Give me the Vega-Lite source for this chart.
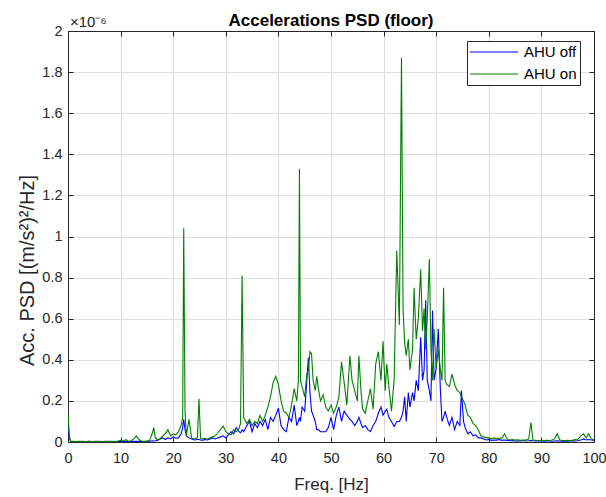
{
  "$schema": "https://vega.github.io/schema/vega-lite/v6.json",
  "autosize": "none",
  "width": 526,
  "height": 411,
  "padding": {"left": 68, "top": 31, "right": 12, "bottom": 55},
  "background": "white",
  "title": {"text": "Accelerations PSD (floor)", "fontSize": 17, "fontWeight": "bold", "anchor": "middle", "color": "#000000", "offset": -15, "font": "Liberation Sans"},
  "layer": [
    {
      "data": {"values": [
        {"f":0,"AHU off":0.09,"AHU on":0.14},
        {"f":0.25,"AHU off":0.02,"AHU on":0.03},
        {"f":0.5,"AHU off":0.003,"AHU on":0.004},
        {"f":1,"AHU off":0.002,"AHU on":0.003},
        {"f":1.5,"AHU off":0.002,"AHU on":0.002},
        {"f":2,"AHU off":0.002,"AHU on":0.003},
        {"f":2.5,"AHU off":0.003,"AHU on":0.002},
        {"f":3,"AHU off":0.002,"AHU on":0.003},
        {"f":3.5,"AHU off":0.002,"AHU on":0.002},
        {"f":4,"AHU off":0.003,"AHU on":0.003},
        {"f":4.5,"AHU off":0.002,"AHU on":0.002},
        {"f":5,"AHU off":0.002,"AHU on":0.003},
        {"f":5.5,"AHU off":0.003,"AHU on":0.002},
        {"f":6,"AHU off":0.002,"AHU on":0.003},
        {"f":6.5,"AHU off":0.002,"AHU on":0.002},
        {"f":7,"AHU off":0.002,"AHU on":0.003},
        {"f":7.5,"AHU off":0.003,"AHU on":0.002},
        {"f":8,"AHU off":0.002,"AHU on":0.003},
        {"f":8.5,"AHU off":0.002,"AHU on":0.003},
        {"f":9,"AHU off":0.002,"AHU on":0.002},
        {"f":9.5,"AHU off":0.003,"AHU on":0.004},
        {"f":10,"AHU off":0.003,"AHU on":0.008},
        {"f":10.5,"AHU off":0.002,"AHU on":0.005},
        {"f":11,"AHU off":0.003,"AHU on":0.012},
        {"f":11.5,"AHU off":0.002,"AHU on":0.004},
        {"f":12,"AHU off":0.002,"AHU on":0.006},
        {"f":12.5,"AHU off":0.003,"AHU on":0.015},
        {"f":13,"AHU off":0.004,"AHU on":0.03},
        {"f":13.5,"AHU off":0.003,"AHU on":0.012},
        {"f":14,"AHU off":0.002,"AHU on":0.004},
        {"f":14.5,"AHU off":0.002,"AHU on":0.003},
        {"f":15,"AHU off":0.003,"AHU on":0.004},
        {"f":15.5,"AHU off":0.004,"AHU on":0.008},
        {"f":16,"AHU off":0.006,"AHU on":0.04},
        {"f":16.3,"AHU off":0.005,"AHU on":0.07},
        {"f":16.6,"AHU off":0.006,"AHU on":0.02},
        {"f":17,"AHU off":0.008,"AHU on":0.012},
        {"f":17.5,"AHU off":0.015,"AHU on":0.015},
        {"f":18,"AHU off":0.02,"AHU on":0.03},
        {"f":18.5,"AHU off":0.012,"AHU on":0.04},
        {"f":19,"AHU off":0.02,"AHU on":0.06},
        {"f":19.5,"AHU off":0.015,"AHU on":0.03},
        {"f":20,"AHU off":0.025,"AHU on":0.04},
        {"f":20.5,"AHU off":0.018,"AHU on":0.035},
        {"f":21,"AHU off":0.02,"AHU on":0.05},
        {"f":21.5,"AHU off":0.04,"AHU on":0.08},
        {"f":21.8,"AHU off":0.07,"AHU on":0.12},
        {"f":22,"AHU off":0.11,"AHU on":1.04},
        {"f":22.25,"AHU off":0.06,"AHU on":0.15},
        {"f":22.5,"AHU off":0.03,"AHU on":0.03},
        {"f":23,"AHU off":0.02,"AHU on":0.11},
        {"f":23.5,"AHU off":0.015,"AHU on":0.02},
        {"f":24,"AHU off":0.01,"AHU on":0.015},
        {"f":24.6,"AHU off":0.012,"AHU on":0.02},
        {"f":24.9,"AHU off":0.012,"AHU on":0.21},
        {"f":25.2,"AHU off":0.01,"AHU on":0.02},
        {"f":25.5,"AHU off":0.008,"AHU on":0.015},
        {"f":26,"AHU off":0.012,"AHU on":0.018},
        {"f":26.5,"AHU off":0.01,"AHU on":0.015},
        {"f":27,"AHU off":0.015,"AHU on":0.02},
        {"f":27.5,"AHU off":0.02,"AHU on":0.025},
        {"f":28,"AHU off":0.015,"AHU on":0.03},
        {"f":28.5,"AHU off":0.02,"AHU on":0.045},
        {"f":29,"AHU off":0.025,"AHU on":0.06},
        {"f":29.5,"AHU off":0.03,"AHU on":0.078},
        {"f":30,"AHU off":0.02,"AHU on":0.05},
        {"f":30.5,"AHU off":0.035,"AHU on":0.04},
        {"f":31,"AHU off":0.05,"AHU on":0.035},
        {"f":31.5,"AHU off":0.04,"AHU on":0.06},
        {"f":32,"AHU off":0.07,"AHU on":0.05},
        {"f":32.5,"AHU off":0.05,"AHU on":0.065},
        {"f":32.8,"AHU off":0.045,"AHU on":0.09},
        {"f":33.1,"AHU off":0.06,"AHU on":0.81},
        {"f":33.4,"AHU off":0.05,"AHU on":0.12},
        {"f":34,"AHU off":0.08,"AHU on":0.09},
        {"f":34.5,"AHU off":0.1,"AHU on":0.11},
        {"f":35,"AHU off":0.05,"AHU on":0.08},
        {"f":35.5,"AHU off":0.09,"AHU on":0.1},
        {"f":36,"AHU off":0.07,"AHU on":0.09},
        {"f":36.5,"AHU off":0.1,"AHU on":0.13},
        {"f":37,"AHU off":0.08,"AHU on":0.1},
        {"f":37.5,"AHU off":0.11,"AHU on":0.13},
        {"f":38,"AHU off":0.06,"AHU on":0.17},
        {"f":38.5,"AHU off":0.12,"AHU on":0.22},
        {"f":39,"AHU off":0.1,"AHU on":0.29},
        {"f":39.5,"AHU off":0.13,"AHU on":0.32},
        {"f":40,"AHU off":0.165,"AHU on":0.28},
        {"f":40.5,"AHU off":0.08,"AHU on":0.2},
        {"f":41,"AHU off":0.06,"AHU on":0.15},
        {"f":41.5,"AHU off":0.05,"AHU on":0.14},
        {"f":42,"AHU off":0.12,"AHU on":0.12},
        {"f":42.5,"AHU off":0.1,"AHU on":0.18},
        {"f":43,"AHU off":0.18,"AHU on":0.26},
        {"f":43.5,"AHU off":0.08,"AHU on":0.2},
        {"f":43.8,"AHU off":0.1,"AHU on":0.3},
        {"f":44,"AHU off":0.12,"AHU on":1.33},
        {"f":44.2,"AHU off":0.1,"AHU on":0.3},
        {"f":44.5,"AHU off":0.17,"AHU on":0.27},
        {"f":45,"AHU off":0.15,"AHU on":0.22},
        {"f":45.4,"AHU off":0.3,"AHU on":0.33},
        {"f":45.7,"AHU off":0.41,"AHU on":0.35},
        {"f":46,"AHU off":0.24,"AHU on":0.44},
        {"f":46.3,"AHU off":0.15,"AHU on":0.43},
        {"f":46.6,"AHU off":0.13,"AHU on":0.3},
        {"f":47,"AHU off":0.1,"AHU on":0.25},
        {"f":47.3,"AHU off":0.06,"AHU on":0.32},
        {"f":47.6,"AHU off":0.06,"AHU on":0.26},
        {"f":48,"AHU off":0.05,"AHU on":0.2},
        {"f":48.5,"AHU off":0.05,"AHU on":0.23},
        {"f":49,"AHU off":0.05,"AHU on":0.17},
        {"f":49.5,"AHU off":0.07,"AHU on":0.15},
        {"f":50,"AHU off":0.12,"AHU on":0.18},
        {"f":50.5,"AHU off":0.06,"AHU on":0.14},
        {"f":51,"AHU off":0.13,"AHU on":0.17},
        {"f":51.5,"AHU off":0.17,"AHU on":0.22},
        {"f":52,"AHU off":0.1,"AHU on":0.39},
        {"f":52.5,"AHU off":0.15,"AHU on":0.29},
        {"f":53,"AHU off":0.13,"AHU on":0.18},
        {"f":53.6,"AHU off":0.11,"AHU on":0.42},
        {"f":54,"AHU off":0.1,"AHU on":0.3},
        {"f":54.5,"AHU off":0.08,"AHU on":0.25},
        {"f":55,"AHU off":0.1,"AHU on":0.2},
        {"f":55.3,"AHU off":0.12,"AHU on":0.42},
        {"f":55.7,"AHU off":0.09,"AHU on":0.25},
        {"f":56,"AHU off":0.07,"AHU on":0.16},
        {"f":56.5,"AHU off":0.08,"AHU on":0.14},
        {"f":57,"AHU off":0.06,"AHU on":0.2},
        {"f":57.5,"AHU off":0.05,"AHU on":0.26},
        {"f":58,"AHU off":0.08,"AHU on":0.16},
        {"f":58.5,"AHU off":0.1,"AHU on":0.38},
        {"f":59,"AHU off":0.14,"AHU on":0.44},
        {"f":59.5,"AHU off":0.17,"AHU on":0.3},
        {"f":59.9,"AHU off":0.13,"AHU on":0.49},
        {"f":60.3,"AHU off":0.15,"AHU on":0.25},
        {"f":60.6,"AHU off":0.16,"AHU on":0.38},
        {"f":61,"AHU off":0.12,"AHU on":0.27},
        {"f":61.5,"AHU off":0.1,"AHU on":0.15},
        {"f":62,"AHU off":0.075,"AHU on":0.3},
        {"f":62.5,"AHU off":0.1,"AHU on":0.93},
        {"f":63,"AHU off":0.1,"AHU on":0.57},
        {"f":63.4,"AHU off":0.12,"AHU on":1.87},
        {"f":63.7,"AHU off":0.15,"AHU on":0.65},
        {"f":64,"AHU off":0.22,"AHU on":0.48},
        {"f":64.3,"AHU off":0.1,"AHU on":0.42},
        {"f":64.7,"AHU off":0.24,"AHU on":0.5},
        {"f":65,"AHU off":0.17,"AHU on":0.35},
        {"f":65.5,"AHU off":0.24,"AHU on":0.45},
        {"f":65.8,"AHU off":0.2,"AHU on":0.75},
        {"f":66.2,"AHU off":0.3,"AHU on":0.5},
        {"f":66.6,"AHU off":0.25,"AHU on":0.6},
        {"f":67.05,"AHU off":0.51,"AHU on":0.84},
        {"f":67.4,"AHU off":0.3,"AHU on":0.54},
        {"f":67.7,"AHU off":0.35,"AHU on":0.65},
        {"f":68,"AHU off":0.69,"AHU on":0.45},
        {"f":68.3,"AHU off":0.3,"AHU on":0.6},
        {"f":68.7,"AHU off":0.25,"AHU on":0.89},
        {"f":69,"AHU off":0.2,"AHU on":0.45},
        {"f":69.3,"AHU off":0.64,"AHU on":0.3},
        {"f":69.6,"AHU off":0.3,"AHU on":0.55},
        {"f":70,"AHU off":0.36,"AHU on":0.36},
        {"f":70.4,"AHU off":0.55,"AHU on":0.45},
        {"f":70.8,"AHU off":0.25,"AHU on":0.35},
        {"f":71.1,"AHU off":0.1,"AHU on":0.3},
        {"f":71.4,"AHU off":0.12,"AHU on":0.75},
        {"f":71.7,"AHU off":0.15,"AHU on":0.3},
        {"f":72,"AHU off":0.12,"AHU on":0.28},
        {"f":72.5,"AHU off":0.08,"AHU on":0.27},
        {"f":73,"AHU off":0.12,"AHU on":0.33},
        {"f":73.5,"AHU off":0.06,"AHU on":0.28},
        {"f":74,"AHU off":0.1,"AHU on":0.25},
        {"f":74.5,"AHU off":0.08,"AHU on":0.24},
        {"f":74.8,"AHU off":0.25,"AHU on":0.22},
        {"f":75.2,"AHU off":0.1,"AHU on":0.2},
        {"f":75.5,"AHU off":0.07,"AHU on":0.18},
        {"f":76,"AHU off":0.04,"AHU on":0.13},
        {"f":76.5,"AHU off":0.05,"AHU on":0.12},
        {"f":77,"AHU off":0.03,"AHU on":0.09},
        {"f":77.5,"AHU off":0.035,"AHU on":0.08},
        {"f":78,"AHU off":0.02,"AHU on":0.06},
        {"f":78.5,"AHU off":0.02,"AHU on":0.03},
        {"f":79,"AHU off":0.015,"AHU on":0.025},
        {"f":79.5,"AHU off":0.01,"AHU on":0.02},
        {"f":80,"AHU off":0.012,"AHU on":0.02},
        {"f":80.5,"AHU off":0.008,"AHU on":0.015},
        {"f":81,"AHU off":0.01,"AHU on":0.02},
        {"f":81.5,"AHU off":0.009,"AHU on":0.016},
        {"f":82,"AHU off":0.012,"AHU on":0.018},
        {"f":82.5,"AHU off":0.008,"AHU on":0.02},
        {"f":83,"AHU off":0.01,"AHU on":0.04},
        {"f":83.5,"AHU off":0.008,"AHU on":0.015},
        {"f":84,"AHU off":0.006,"AHU on":0.01},
        {"f":84.5,"AHU off":0.007,"AHU on":0.012},
        {"f":85,"AHU off":0.005,"AHU on":0.009},
        {"f":85.5,"AHU off":0.006,"AHU on":0.011},
        {"f":86,"AHU off":0.005,"AHU on":0.008},
        {"f":86.5,"AHU off":0.007,"AHU on":0.01},
        {"f":87,"AHU off":0.005,"AHU on":0.009},
        {"f":87.6,"AHU off":0.006,"AHU on":0.015},
        {"f":88,"AHU off":0.008,"AHU on":0.095},
        {"f":88.4,"AHU off":0.006,"AHU on":0.01},
        {"f":89,"AHU off":0.005,"AHU on":0.008},
        {"f":89.5,"AHU off":0.005,"AHU on":0.007},
        {"f":90,"AHU off":0.006,"AHU on":0.009},
        {"f":90.5,"AHU off":0.004,"AHU on":0.007},
        {"f":91,"AHU off":0.005,"AHU on":0.008},
        {"f":91.5,"AHU off":0.005,"AHU on":0.007},
        {"f":92,"AHU off":0.004,"AHU on":0.01},
        {"f":92.5,"AHU off":0.005,"AHU on":0.015},
        {"f":93,"AHU off":0.006,"AHU on":0.04},
        {"f":93.5,"AHU off":0.005,"AHU on":0.01},
        {"f":94,"AHU off":0.004,"AHU on":0.008},
        {"f":94.5,"AHU off":0.005,"AHU on":0.007},
        {"f":95,"AHU off":0.004,"AHU on":0.008},
        {"f":95.5,"AHU off":0.005,"AHU on":0.006},
        {"f":96,"AHU off":0.006,"AHU on":0.009},
        {"f":96.5,"AHU off":0.005,"AHU on":0.012},
        {"f":97,"AHU off":0.007,"AHU on":0.015},
        {"f":97.5,"AHU off":0.01,"AHU on":0.03},
        {"f":98,"AHU off":0.015,"AHU on":0.04},
        {"f":98.5,"AHU off":0.01,"AHU on":0.02},
        {"f":99,"AHU off":0.012,"AHU on":0.04},
        {"f":99.5,"AHU off":0.01,"AHU on":0.015},
        {"f":100,"AHU off":0.008,"AHU on":0.01}
      ]},
      "transform": [{"fold": ["AHU off", "AHU on"], "as": ["series", "psd"]}],
      "mark": {"type": "line", "strokeWidth": 1.1, "clip": true},
      "encoding": {
        "x": {"field": "f", "type": "quantitative", "scale": {"domain": [0, 100], "nice": false},
              "axis": {"orient": "bottom", "values": [0,10,20,30,40,50,60,70,80,90,100], "format": "d", "labelFlush": false, "title": "Freq. [Hz]", "grid": true, "tickSize": -5, "labelPadding": 14, "titleY": 47, "titleBaseline": "alphabetic", "titleFontSize": 17}},
        "y": {"field": "psd", "type": "quantitative", "scale": {"domain": [0, 2], "nice": false},
              "axis": {"orient": "left", "values": [0,0.2,0.4,0.6,0.8,1,1.2,1.4,1.6,1.8,2], "format": "~r", "labelFlush": false, "title": "Acc. PSD [(m/s²)²/Hz]", "grid": true, "tickSize": -5, "labelPadding": 11, "titleX": -35, "titleY": 239, "titleAngle": 270, "titleAlign": "center", "titleBaseline": "alphabetic", "titleFontSize": 20}},
        "color": {"field": "series", "type": "nominal",
                  "scale": {"domain": ["AHU off", "AHU on"], "range": ["#0000ff", "#008000"]},
                  "legend": {"title": null, "orient": "none", "legendX": 399, "legendY": 10}},
        "order": {"field": "f", "type": "quantitative"}
      }
    },
    {
      "data": {"values": [{"t": "×10⁻⁶", "x": 0, "y": 2}]},
      "mark": {"type": "text", "align": "left", "baseline": "alphabetic", "dx": 2, "dy": -4, "fontSize": 15, "color": "#262626", "font": "Liberation Sans"},
      "encoding": {
        "x": {"field": "x", "type": "quantitative", "axis": {"orient": "top", "values": [0,10,20,30,40,50,60,70,80,90,100], "labels": false, "title": null, "grid": false, "tickSize": -5, "domain": true}},
        "y": {"field": "y", "type": "quantitative", "axis": {"orient": "right", "values": [0,0.2,0.4,0.6,0.8,1,1.2,1.4,1.6,1.8,2], "labels": false, "title": null, "grid": false, "tickSize": -5, "domain": true}},
        "text": {"field": "t"}
      }
    }
  ],
  "resolve": {"axis": {"x": "independent", "y": "independent"}},
  "config": {
    "font": "Liberation Sans",
    "view": {"stroke": "#262626", "strokeWidth": 1},
    "axis": {"domainColor": "#262626", "tickColor": "#262626", "labelColor": "#262626", "titleColor": "#262626", "gridColor": "#dedede", "gridWidth": 1, "labelFontSize": 14.5, "titleFontWeight": "normal", "labelFont": "Liberation Sans", "titleFont": "Liberation Sans", "domainWidth": 1, "tickWidth": 1},
    "legend": {"fillColor": "white", "strokeColor": "#262626", "strokeWidth": 1, "padding": 3, "labelFontSize": 15, "labelColor": "#000000", "labelFont": "Liberation Sans", "symbolType": "M-3.43,0H3.43", "symbolSize": 196, "symbolStrokeWidth": 1.2, "rowPadding": 6, "symbolOffset": 16, "labelOffset": 22, "cornerRadius": 0}
  }
}
